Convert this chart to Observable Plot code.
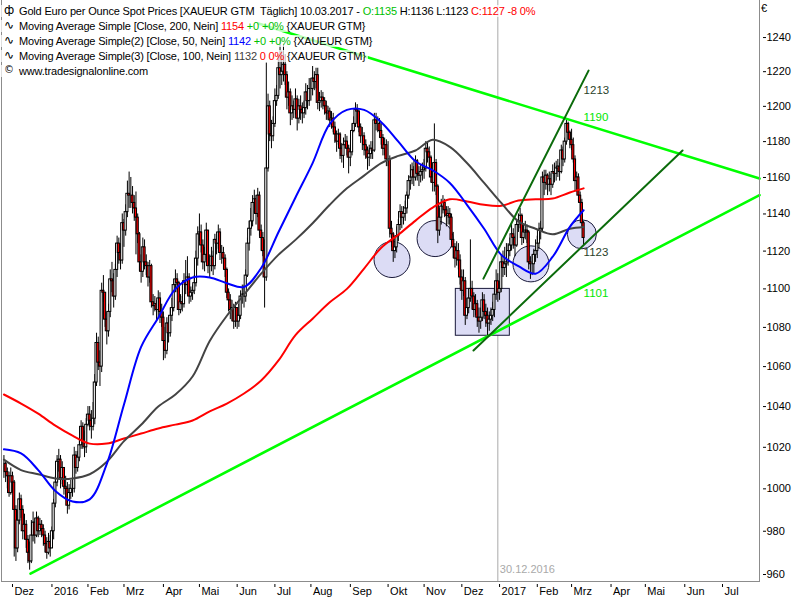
<!DOCTYPE html>
<html>
<head>
<meta charset="utf-8">
<script src="https://cdn.jsdelivr.net/npm/d3@7"></script>
<script src="https://cdn.jsdelivr.net/npm/@observablehq/plot@0.6"></script>
<style>
  body { margin: 0; background: #fff; }
  #wrap { position: relative; width: 800px; height: 600px; overflow: hidden; font-family: "Liberation Sans", Arial, sans-serif; }
  #chart svg { display: block; }
  #legend { position: absolute; left: 0; top: 4px; font-size: 11px; line-height: 15px; letter-spacing: -0.17px; color: #000; white-space: nowrap; }
  #legend > div { height: 15px; overflow: hidden; }
  #legend .bg { background: rgba(255,255,255,0.72); padding: 0 2px 0 4px; }
  #legend .ic { display: inline-block; width: 15px; height: 12px; overflow: hidden; text-align: left; font-family: "DejaVu Sans", sans-serif; font-size: 12px; line-height: 12px; letter-spacing: 0; vertical-align: -1px; }
  #euro { position: absolute; left: 761px; top: 2px; font-size: 11px; }
</style>
</head>
<body>
<div id="wrap">
  <div id="chart"></div>
  <div id="legend">
    <div><span class="bg"><span class="ic">ф</span>Gold Euro per Ounce Spot Prices [XAUEUR GTM&nbsp; Täglich] 10.03.2017 - <span style="color:#00c000">O:1135</span> H:1136 L:1123 <span style="color:#ff0000">C:1127 -8 0%</span></span></div>
    <div><span class="bg"><span class="ic">∿</span>Moving Average Simple [Close, 200, Nein] <span style="color:#ff0000">1154</span> <span style="color:#00c000">+0 +0%</span> {XAUEUR GTM}</span></div>
    <div><span class="bg"><span class="ic">∿</span>Moving Average Simple(2) [Close, 50, Nein] <span style="color:#0000ff">1142</span> <span style="color:#00c000">+0 +0%</span> {XAUEUR GTM}</span></div>
    <div><span class="bg"><span class="ic">∿</span>Moving Average Simple(3) [Close, 100, Nein] <span style="color:#404040">1132</span> <span style="color:#ff0000">0 0%</span> {XAUEUR GTM}</span></div>
    <div><span class="bg"><span class="ic" style="font-size:10px">©</span>www.tradesignalonline.com</span></div>
  </div>
  <div id="euro">€</div>
</div>
<script>
// ---- Data (trading days, weekdays from 24.11.2015 to 10.03.2017) ----
const firstTradingDay = "2015-11-24";
const lastAxisDay = "2017-07-31";

const close = [
 1012,1008,1006,998,1006,
 1003,990,972,985,995,990,980,983,976,970,966,978,984,978,986,980,983,981,978,974,970,975,972,
 980,993,1003,1013,1014,1005,1010,1001,1000,992,998,1000,1000,1016,1010,1015,1021,1030,1023,1020,1031,
 1036,1033,1030,1034,1052,1072,1062,1060,1099,1098,1084,1078,1088,1105,1104,1096,1110,1124,1119,1115,1135,
 1131,1141,1151,1150,1150,1146,1143,1138,1129,1114,1109,1122,1114,1112,1106,1112,1093,1091,1092,1089,1095,1088,1085,
 1073,1068,1082,1077,1086,1090,1102,1105,1103,1089,1093,1092,1104,1102,1106,1096,1098,1099,1103,1116,1129,
 1130,1123,1114,1118,1131,1112,1112,1117,1112,1126,1124,1130,1119,1119,1116,1110,1098,1094,1089,1090,1083,1090,
 1083,1086,1096,1097,1096,1107,1124,1132,1136,1146,1148,1140,1150,1131,1127,1120,1106,1165,1200,1184,1183,1190,
 1203,1206,1222,1218,1220,1224,1218,1205,1208,1196,1200,1198,1204,1193,1200,1198,1196,1199,1208,1203,1210,
 1210,1216,1214,1218,1202,1203,1205,1203,1200,1196,1197,1192,1193,1188,1184,1180,1184,1176,1172,1178,1180,1176,1171,
 1174,1186,1190,1198,1197,1188,1183,1183,1178,1175,1171,1173,1176,1175,1192,1190,1190,1186,1182,1176,1178,1170,
 1170,1132,1129,1120,1122,1128,1134,1141,1138,1140,1143,1150,1158,1160,1164,1160,1169,1162,1161,1163,1164,
 1165,1176,1174,1171,1160,1157,1168,1155,1131,1138,1144,1146,1142,1139,1140,1138,1126,1122,1116,1120,1115,1106,
 1099,1104,1086,1090,1095,1100,1096,1089,1092,1085,1083,1085,1094,1088,1086,1082,1084,1086,1089,1097,1104,1098,
 1100,1114,1111,1113,1114,1120,1123,1129,1127,1123,1134,1136,1139,1127,1130,1131,1130,1114,1113,1113,1118,1120,
 1124,1131,1132,1160,1157,1161,1156,1159,1156,1163,1162,1165,1166,1163,1175,1170,1180,1190,1185,1181,
 1178,1170,1158,1160,1150,1146,1135,1127
];
const high = [
 1016,1013,1010,1008,1010,
 1008,1004,992,990,998,997,992,988,985,978,975,985,989,986,989,987,986,985,983,980,977,979,978,
 982,995,1006,1016,1019,1016,1013,1010,1006,1003,1002,1004,1005,1020,1018,1018,1024,1033,1032,1028,1034,
 1040,1040,1038,1042,1056,1077,1075,1068,1103,1107,1098,1088,1092,1110,1114,1108,1113,1128,1127,1124,1140,
 1137,1145,1158,1163,1160,1155,1150,1152,1140,1130,1118,1127,1126,1118,1114,1115,1113,1097,1096,1094,1099,1098,1092,
 1088,1080,1085,1086,1090,1095,1105,1110,1108,1104,1097,1096,1108,1115,1117,1108,1101,1102,1107,1120,1133,
 1140,1134,1126,1122,1135,1131,1118,1122,1120,1129,1130,1134,1132,1123,1122,1118,1111,1100,1097,1094,1092,1093,
 1090,1092,1099,1102,1102,1110,1127,1136,1143,1150,1153,1150,1154,1152,1134,1130,1126,1225,1207,1203,1192,1194,
 1210,1212,1230,1240,1232,1236,1230,1220,1214,1210,1206,1203,1210,1206,1204,1206,1202,1203,1213,1212,1216,
 1216,1223,1220,1222,1222,1208,1209,1208,1205,1203,1200,1199,1197,1196,1191,1186,1187,1185,1179,1182,1184,1183,1178,
 1178,1190,1194,1202,1201,1198,1190,1188,1185,1181,1177,1178,1180,1180,1196,1196,1194,1193,1190,1184,1182,1181,
 1180,1172,1136,1130,1128,1133,1137,1145,1144,1144,1147,1152,1161,1167,1168,1166,1172,1170,1166,1167,1168,
 1170,1180,1180,1177,1172,1168,1190,1170,1156,1143,1148,1150,1148,1144,1144,1143,1140,1130,1124,1125,1124,1118,
 1110,1110,1106,1095,1100,1126,1104,1098,1097,1094,1090,1090,1098,1097,1092,1090,1088,1090,1093,1100,1110,1108,
 1104,1118,1120,1122,1124,1124,1127,1135,1132,1128,1137,1140,1143,1140,1134,1136,1134,1131,1117,1118,1121,1126,
 1128,1135,1136,1163,1164,1164,1162,1163,1162,1167,1168,1169,1170,1168,1178,1177,1182,1192,1191,1186,
 1187,1182,1172,1163,1162,1152,1148,1136
];
const low = [
 1005,1003,1000,996,997,
 998,968,966,970,983,986,976,976,972,965,962,965,975,974,977,977,978,977,973,970,967,969,968,
 972,976,991,1001,1008,1000,1002,997,995,988,990,995,996,998,1007,1008,1013,1019,1019,1015,1017,
 1030,1028,1024,1028,1031,1050,1058,1050,1057,1093,1080,1071,1075,1085,1098,1090,1094,1106,1113,1110,1113,
 1122,1128,1138,1143,1143,1140,1136,1118,1124,1109,1103,1106,1110,1107,1101,1103,1090,1086,1088,1083,1085,1082,1080,
 1063,1064,1066,1072,1075,1083,1088,1098,1098,1086,1087,1088,1090,1097,1099,1092,1093,1094,1097,1101,1112,
 1125,1119,1110,1109,1115,1108,1106,1109,1107,1110,1118,1121,1115,1113,1110,1106,1095,1088,1084,1083,1079,1080,
 1079,1080,1084,1092,1090,1093,1106,1120,1128,1133,1140,1134,1138,1128,1120,1117,1090,1104,1163,1180,1176,1180,
 1188,1200,1204,1210,1212,1214,1212,1198,1200,1189,1192,1193,1195,1186,1190,1192,1190,1193,1195,1198,1200,
 1203,1206,1209,1210,1198,1197,1199,1198,1195,1192,1192,1188,1187,1185,1179,1174,1178,1170,1168,1165,1176,1172,1162,
 1166,1172,1185,1188,1190,1185,1179,1175,1172,1170,1164,1166,1170,1170,1174,1186,1185,1182,1178,1172,1172,1166,
 1166,1127,1122,1114,1116,1119,1125,1131,1132,1134,1136,1140,1148,1153,1156,1155,1158,1158,1155,1157,1158,
 1159,1163,1168,1166,1157,1152,1152,1150,1124,1128,1134,1140,1138,1133,1134,1134,1123,1116,1111,1112,1110,1102,
 1094,1096,1081,1084,1087,1093,1089,1085,1086,1080,1077,1079,1083,1084,1080,1075,1078,1081,1083,1085,1094,1093,
 1094,1098,1106,1107,1106,1112,1117,1120,1121,1117,1122,1130,1132,1123,1124,1126,1124,1110,1105,1107,1108,1114,
 1116,1121,1126,1130,1150,1153,1150,1152,1150,1154,1157,1158,1160,1158,1162,1166,1168,1178,1181,1176,
 1175,1168,1152,1152,1146,1140,1133,1123
];

// Moving averages, every 10 trading days (last point = 10.03.2017)
const maDay = [0,10,20,30,40,50,60,70,80,90,100,110,120,130,140,150,160,170,180,190,200,210,220,230,240,250,260,270,280,290,300,310,320,330,338];
const ma200 = [1046,1041.5,1036.5,1030.6,1025.7,1021.8,1021.8,1024.3,1026.7,1029.2,1031.1,1033.1,1037.6,1041.5,1046.5,1053,1063,1076,1084.5,1093,1100,1110.7,1121.8,1128.8,1136.4,1143.5,1148,1146.8,1145,1144.5,1147.3,1148,1148.4,1151.7,1154];
const ma50  = [1019,1017,1009,999,994,995,1012,1041,1070,1085,1100,1106,1106,1103,1101,1111,1130,1149,1168,1190,1198,1198,1191,1180,1169,1164,1157,1145,1132,1118,1112,1108,1117,1133,1142];
const ma100 = [1014,1009,1007,1005,1005,1007,1013,1023,1031,1040,1046,1055,1073,1086,1097,1108,1118,1126,1135,1145,1154,1161,1168,1172,1175,1181,1177,1168,1157,1146,1136,1132,1129,1132,1133];

const monthNames = ["Jan","Feb","Mrz","Apr","Mai","Jun","Jul","Aug","Sep","Okt","Nov","Dez"];
const yTicks = [960,980,1000,1020,1040,1060,1080,1100,1120,1140,1160,1180,1200,1220,1240];

// Drawn annotations (trading-day number, price)
const trendColor = ["#00ff00","#00ff00","#0b6b0b","#0b6b0b"];
const trendDay1 = [148.4, 15.5, 279.6, 273.8];
const trendPrice1 = [1248.3, 960.4, 1105.4, 1068.2];
const trendDay2 = [440.6, 440.6, 340.9, 395.7];
const trendPrice2 = [1159.4, 1150.3, 1220.6, 1175];
const trendLabel = ["1190","1101","1213","1123"];
const trendLabelPrice = [1193.5, 1097.6, 1209, 1119.5];
const trendLabelColor = ["#00e600","#00e600","#2a3f2a","#2a3f2a"];
const circleDay = [226.3, 251.4, 307.3, 337.0];
const circlePrice = [1115.5, 1126.7, 1113.2, 1129];
const boxDay = [263.5, 295.0];
const boxPrice = [1075.7, 1100];
const markerDate = "2016-12-30";

// ---- Build tables ----
const days = [];
{
  const d = new Date(firstTradingDay + "T00:00:00Z");
  const end = new Date(lastAxisDay + "T00:00:00Z");
  while (d <= end) {
    const wd = d.getUTCDay();
    if (wd !== 0 && wd !== 6) days.push(new Date(d));
    d.setUTCDate(d.getUTCDate() + 1);
  }
}
const candles = close.map((c, k) => ({k, open: k ? close[k - 1] : c, high: high[k], low: low[k], close: c}));
const monthTicks = [];
days.forEach((d, k) => {
  if (k > 0 && d.getUTCMonth() !== days[k - 1].getUTCMonth()) {
    monthTicks.push({k, label: d.getUTCMonth() === 0 ? String(d.getUTCFullYear()) : monthNames[d.getUTCMonth()]});
  }
});
const tickLabel = new Map(monthTicks.map(t => [t.k, t.label]));
const markerK = days.findIndex(d => d.toISOString().slice(0, 10) === markerDate);
const markerText = d3.utcFormat("%d.%m.%Y")(days[markerK]);

const maRows = (vals) => vals.map((v, j) => ({day: maDay[j], v}));
const trendRows = trendColor.map((c, j) => [
  {j, day: trendDay1[j], p: trendPrice1[j]},
  {j, day: trendDay2[j], p: trendPrice2[j]}
]);
const labelRows = trendLabel.map((t, j) => ({t, p: trendLabelPrice[j], c: trendLabelColor[j], day: 338}));
const circles = circleDay.map((d, j) => ({day: d, p: circlePrice[j]}));

const chart = Plot.plot({
  width: 800, height: 600,
  marginLeft: 1, marginRight: 41, marginTop: 0, marginBottom: 19,
  x: {type: "linear", domain: [-1.414, 440.57], axis: null},
  y: {type: "log", domain: [956.8, 1262.1], axis: null},
  style: {fontFamily: "'Liberation Sans', Arial, sans-serif", fontSize: "11px", background: "white", color: "black"},
  marks: [
    Plot.ruleX([markerK], {stroke: "#a9a9a9", strokeWidth: 1}),
    Plot.text([markerText], {x: markerK, frameAnchor: "bottom", dy: -9, dx: 2, textAnchor: "start", fill: "#a9a9a9", fontSize: 11}),
    Plot.rect([0], {x1: boxDay[0], x2: boxDay[1], y1: boxPrice[0], y2: boxPrice[1], fill: "#dcdcf5", stroke: "#1a1a3a", strokeWidth: 1}),
    Plot.dot(circles.slice(0, 3), {x: "day", y: "p", r: 18, fill: "#dcdcf5", stroke: "#1a1a3a", strokeWidth: 1}),
    Plot.dot(circles.slice(3), {x: "day", y: "p", r: 14.5, fill: "#dcdcf5", stroke: "#1a1a3a", strokeWidth: 1}),
    Plot.ruleX(candles, {x: "k", y1: "low", y2: "high", stroke: "black", strokeWidth: 1}),
    Plot.rect(candles, {x1: d => d.k - 0.62, x2: d => d.k + 0.62, y1: "open", y2: "close",
      fill: d => d.close < d.open ? "#ff0000" : "#ffffff", stroke: "black", strokeWidth: 1}),
    Plot.line(maRows(ma200), {x: "day", y: "v", stroke: "#ff0000", strokeWidth: 2, curve: "catmull-rom"}),
    Plot.line(maRows(ma100), {x: "day", y: "v", stroke: "#444444", strokeWidth: 2, curve: "catmull-rom"}),
    Plot.line(maRows(ma50), {x: "day", y: "v", stroke: "#0000ff", strokeWidth: 2, curve: "catmull-rom"}),
    ...trendRows.map((rows, j) => Plot.line(rows, {x: "day", y: "p", stroke: trendColor[j], strokeWidth: j < 2 ? 2.6 : 2})),
    Plot.text(labelRows, {x: "day", y: "p", text: "t", fill: "c", textAnchor: "start", fontSize: 11.5}),
    Plot.frame({anchor: "left", stroke: "#8c8c8c"}),
    Plot.frame({anchor: "right", stroke: "#8c8c8c"}),
    Plot.frame({anchor: "bottom", stroke: "#8c8c8c"}),
    Plot.axisY(yTicks, {anchor: "right", tickSize: 3, dx: 3, tickPadding: 1, tickFormat: d => String(d), fontSize: 11}),
    Plot.axisX(monthTicks.map(t => t.k), {anchor: "bottom", tickSize: 3, dy: 3, tickFormat: () => ""}),
    Plot.axisX(monthTicks.map(t => t.k), {anchor: "bottom", tickSize: 0, tickPadding: 6, dx: 2, textAnchor: "start", tickFormat: k => tickLabel.get(k), fontSize: 11})
  ]
});
document.getElementById("chart").appendChild(chart);
</script>
</body>
</html>
